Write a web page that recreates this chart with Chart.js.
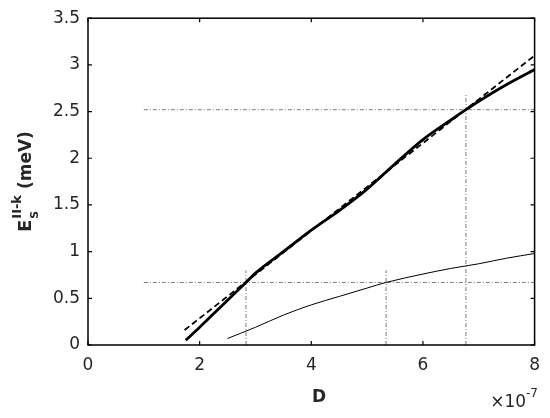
<!DOCTYPE html>
<html>
<head>
<meta charset="utf-8">
<script src="https://cdn.jsdelivr.net/npm/chart.js@4/dist/chart.umd.min.js"></script>
<style>
  body { margin: 0; background: #fff; }
  #wrap { width: 550px; height: 418px; }
</style>
</head>
<body>
<div id="wrap"><canvas id="esChart" width="550" height="418"></canvas></div>
<script>
// D values are in units of 1e-7 (axis multiplier shown as x10^-7)
const thickD = [1.75, 2, 2.5, 2.83, 3, 3.5, 4, 4.5, 5, 5.5, 6, 6.5, 6.77, 7, 7.5, 8];
const thickE = [0.05, 0.19, 0.48, 0.67, 0.77, 1.0, 1.23, 1.44, 1.67, 1.94, 2.2, 2.41, 2.52, 2.61, 2.79, 2.95];

const fitD = [1.73, 8];
const fitE = [0.16, 3.1];

const thinD = [2.5, 3, 3.5, 4, 4.5, 5, 5.34, 6, 6.5, 7, 7.5, 8];
const thinE = [0.07, 0.19, 0.32, 0.43, 0.52, 0.61, 0.67, 0.76, 0.82, 0.87, 0.93, 0.98];

// dash-dot guide lines
const levelE = [0.67, 2.52];
const levelFrom = [1.0, 1.0];
const markD = [2.83, 5.34, 6.77];
const markTop = [0.8, 0.8, 2.7];

const xTicks = [0, 2, 4, 6, 8];
const yTicks = [0, 0.5, 1, 1.5, 2, 2.5, 3, 3.5];

const FONT = '"DejaVu Sans", sans-serif';
const dashDot = [4, 2, 1, 2];

function pts(xs, ys) {
    return xs.map((x, i) => ({ x: x, y: ys[i] }));
}

const guides = [];
levelE.forEach((e, i) => {
    guides.push({
        data: pts([levelFrom[i], 8], [e, e]),
        borderColor: '#7a7a7a', borderWidth: 1, borderDash: dashDot,
        pointRadius: 0, showLine: true, order: 5
    });
});
markD.forEach((d, i) => {
    guides.push({
        data: pts([d, d], [0, markTop[i]]),
        borderColor: '#7a7a7a', borderWidth: 1, borderDash: dashDot,
        pointRadius: 0, showLine: true, order: 5
    });
});

// box, inward ticks and axis texts
const framePlugin = {
    id: 'frame',
    afterDraw(chart) {
        const ctx = chart.ctx;
        const a = chart.chartArea;
        const xs = chart.scales.x, ys = chart.scales.y;
        ctx.save();
        ctx.strokeStyle = '#000';
        ctx.lineWidth = 1.5;
        ctx.strokeRect(a.left, a.top, a.right - a.left, a.bottom - a.top);
        ctx.lineWidth = 1.2;
        ctx.beginPath();
        xTicks.forEach(v => {
            const px = xs.getPixelForValue(v);
            ctx.moveTo(px, a.bottom); ctx.lineTo(px, a.bottom - 4);
            ctx.moveTo(px, a.top); ctx.lineTo(px, a.top + 4);
        });
        yTicks.forEach(v => {
            const py = ys.getPixelForValue(v);
            ctx.moveTo(a.left, py); ctx.lineTo(a.left + 4, py);
            ctx.moveTo(a.right, py); ctx.lineTo(a.right - 4, py);
        });
        ctx.stroke();

        ctx.fillStyle = '#262626';
        // x label
        ctx.font = 'bold 17px ' + FONT;
        ctx.textAlign = 'center';
        ctx.textBaseline = 'alphabetic';
        ctx.fillText('D', 319, 402);
        // multiplier
        ctx.textAlign = 'right';
        ctx.font = '12px ' + FONT;
        const expW = ctx.measureText('-7').width;
        ctx.fillText('-7', 538, 397);
        ctx.font = '17px ' + FONT;
        ctx.fillText('\u00d710', 538 - expW, 407);

        // y label, rotated
        ctx.translate(31, 232);
        ctx.rotate(-Math.PI / 2);
        ctx.textAlign = 'left';
        ctx.font = 'bold 18px ' + FONT;
        ctx.fillText('E', 0, 0);
        let w = ctx.measureText('E').width + 1;
        ctx.font = 'bold 11px ' + FONT;
        ctx.fillText('S', w, 7);
        const sw = ctx.measureText('S').width;
        ctx.font = 'bold 13px ' + FONT;
        ctx.fillText('II-k', w, -10);
        w += Math.max(sw, ctx.measureText('II-k').width);
        ctx.font = 'bold 17px ' + FONT;
        ctx.fillText(' (meV)', w, 0);
        ctx.restore();
    }
};

const ctx = document.getElementById('esChart').getContext('2d');
new Chart(ctx, {
    type: 'scatter',
    data: {
        datasets: [
            {
                data: pts(thickD, thickE),
                borderColor: '#000', borderWidth: 2.8,
                pointRadius: 0, showLine: true,
                cubicInterpolationMode: 'monotone', order: 1
            },
            {
                data: pts(fitD, fitE),
                borderColor: '#000', borderWidth: 1.8, borderDash: [6, 3.5],
                pointRadius: 0, showLine: true, order: 2
            },
            {
                data: pts(thinD, thinE),
                borderColor: '#000', borderWidth: 1,
                pointRadius: 0, showLine: true,
                cubicInterpolationMode: 'monotone', order: 3
            },
            ...guides
        ]
    },
    options: {
        responsive: false,
        animation: false,
        devicePixelRatio: 1,
        layout: { padding: { top: 16, right: 13, left: 0, bottom: 0 } },
        plugins: {
            legend: { display: false },
            tooltip: { enabled: false }
        },
        scales: {
            x: {
                type: 'linear', min: 0, max: 8,
                grid: { display: false, drawTicks: false },
                border: { display: false },
                ticks: {
                    stepSize: 2, padding: 10, color: '#262626',
                    font: { family: FONT, size: 17 },
                    callback: v => String(v)
                },
                afterFit(scale) { scale.height = 73; }
            },
            y: {
                type: 'linear', min: 0, max: 3.5,
                grid: { display: false, drawTicks: false },
                border: { display: false },
                ticks: {
                    stepSize: 0.5, padding: 8, color: '#262626',
                    font: { family: FONT, size: 17 },
                    callback: v => String(v)
                },
                afterFit(scale) { scale.width = 88; }
            }
        }
    },
    plugins: [framePlugin]
});
</script>
</body>
</html>
